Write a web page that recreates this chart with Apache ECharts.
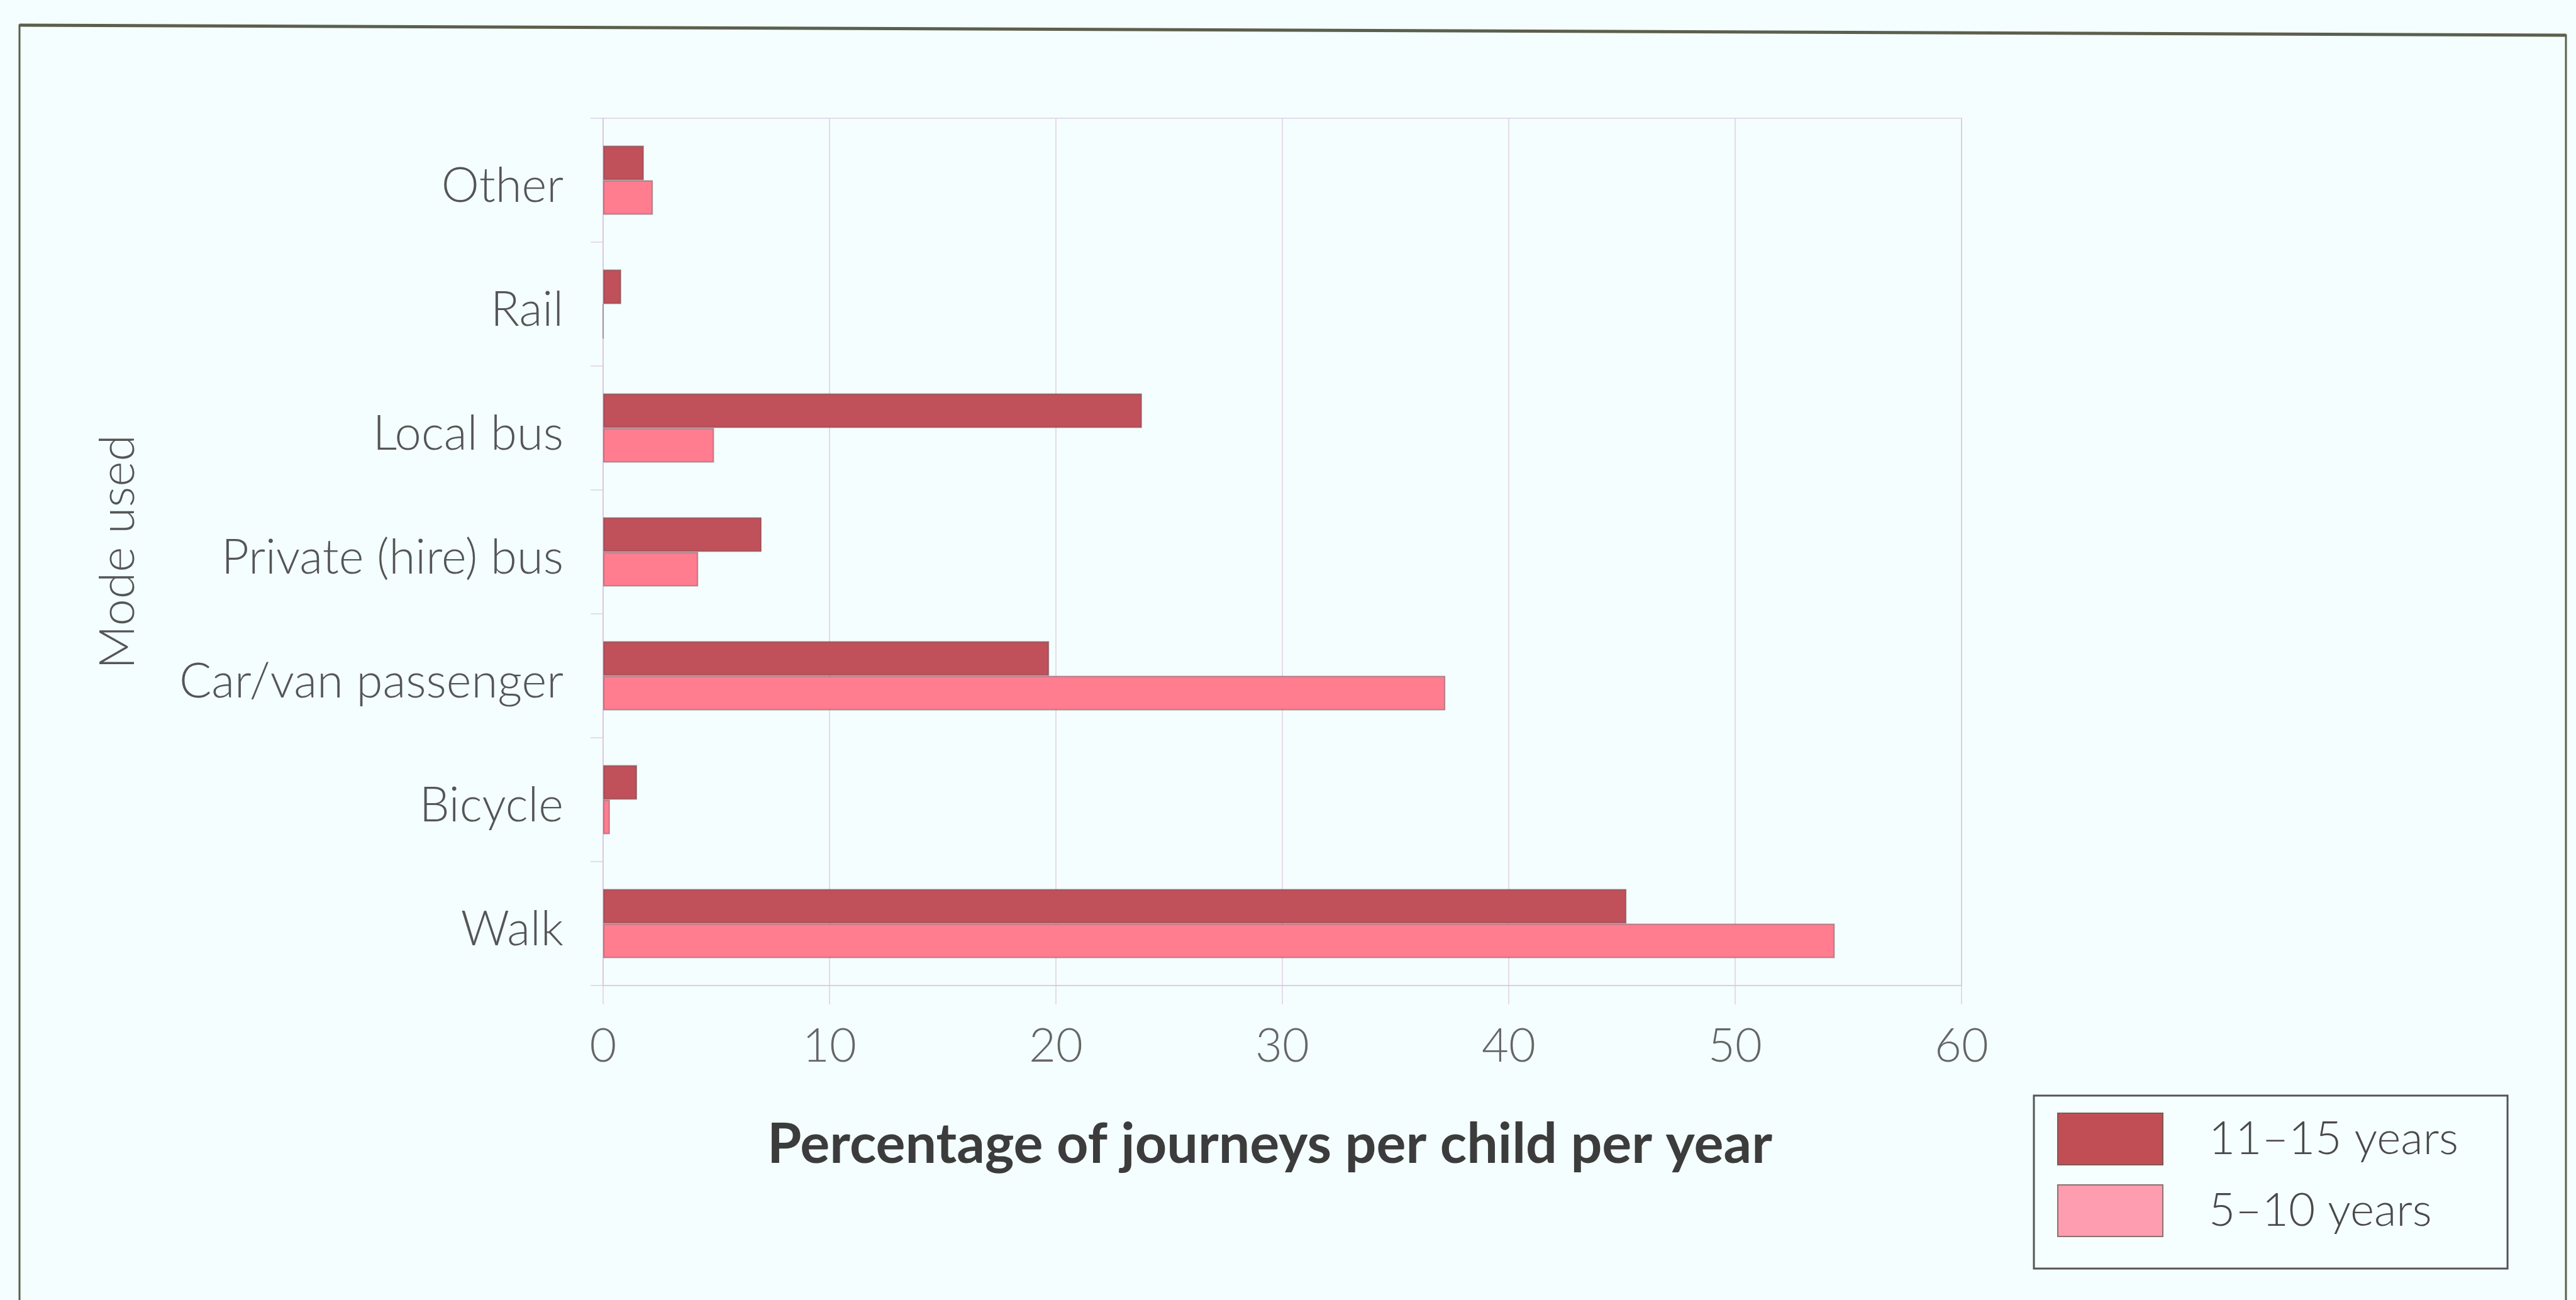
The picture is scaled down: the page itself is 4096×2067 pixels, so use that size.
<!DOCTYPE html>
<html>
<head>
<meta charset="utf-8">
<title>Mode used</title>
<script src="https://cdn.jsdelivr.net/npm/echarts@6/dist/echarts.min.js"></script>
<style>
  html, body { margin: 0; padding: 0; background: #f4fefe; }
  #chart { width: 4096px; height: 2067px; }
</style>
</head>
<body>
<div id="chart"></div>
<script>
var modes = ['Other', 'Rail', 'Local bus', 'Private (hire) bus', 'Car/van passenger', 'Bicycle', 'Walk'];
var older = [1.8, 0.8, 23.8, 7.0, 19.7, 1.5, 45.2];   // 11–15 years
var younger = [2.2, 0, 4.9, 4.2, 37.2, 0.3, 54.4];    // 5–10 years
var seriesNames = ['11–15 years', '5–10 years'];
var xTicks = [0, 10, 20, 30, 40, 50, 60];

var chart = echarts.init(document.getElementById('chart'));
var font = 'Lato, "Open Sans", sans-serif';
var faint = 'rgba(220,195,220,0.6)';

chart.setOption({
    backgroundColor: '#f4fefe',
    animation: false,
    textStyle: { fontFamily: font },
    grid: {
        left: 959,
        right: 977,
        top: 188,
        bottom: 500,
        outerBoundsMode: 'none',
        show: true,
        borderColor: faint,
        borderWidth: 2
    },
    legend: {
        orient: 'vertical',
        left: 3234,
        top: 1742,
        padding: [27, 78, 50, 37],
        itemWidth: 167,
        itemHeight: 82,
        itemGap: 30,
        borderColor: '#555555',
        borderWidth: 3,
        backgroundColor: '#f6ffff',
        icon: 'rect',
        textStyle: { fontSize: 73, color: '#4a4a4a', fontWeight: 300, padding: [0, 0, 0, 68] },
        data: [
            { name: seriesNames[0], itemStyle: { color: '#c24e55', borderColor: '#7a5a50', borderWidth: 2 } },
            { name: seriesNames[1], itemStyle: { color: '#ff9db0', borderColor: '#8a7070', borderWidth: 2 } }
        ]
    },
    xAxis: {
        type: 'value',
        min: xTicks[0],
        max: xTicks[xTicks.length - 1],
        interval: 10,
        name: 'Percentage of journeys per child per year',
        nameLocation: 'middle',
        nameGap: 210,
        nameTextStyle: { fontSize: 88, fontWeight: 'bold', color: '#3c3c3c', padding: [0, 40, 0, 0] },
        axisLine: { show: true, lineStyle: { color: faint, width: 2 } },
        axisTick: { show: true, length: 30, lineStyle: { color: faint, width: 2 } },
        axisLabel: { fontSize: 74, color: '#666666', fontWeight: 300, margin: 60 },
        splitLine: { show: true, lineStyle: { color: faint, width: 2 } }
    },
    yAxis: {
        type: 'category',
        inverse: true,
        data: modes,
        name: 'Mode used',
        nameLocation: 'middle',
        nameGap: 732,
        nameTextStyle: { fontSize: 77, color: '#555555', fontWeight: 300 },
        axisLine: { show: true, lineStyle: { color: faint, width: 2 } },
        axisTick: { show: true, length: 20, lineStyle: { color: faint, width: 2 } },
        axisLabel: {
            margin: 63,
            formatter: function (v) { return '{m|' + v + '}'; },
            rich: {
                m: { fontSize: 76, color: '#555555', fontWeight: 300, fontFamily: font, padding: [20, 0, 0, 0] }
            }
        }
    },
    series: [
        {
            name: seriesNames[0],
            type: 'bar',
            data: older,
            barWidth: 55,
            barGap: '0%',
            itemStyle: { color: '#c0505a', borderColor: 'rgba(110,70,70,0.55)', borderWidth: 2 }
        },
        {
            name: seriesNames[1],
            type: 'bar',
            data: younger,
            barWidth: 55,
            barGap: '0%',
            itemStyle: { color: '#ff7d8f', borderColor: 'rgba(120,90,100,0.55)', borderWidth: 2 }
        }
    ],
    graphic: [
        {
            type: 'polyline',
            silent: true,
            shape: { points: [[31, 2080], [31, 40], [4080, 56], [4080, 2080]] },
            style: { fill: null, stroke: '#5b5f4c', lineWidth: 3 }
        },
        {
            type: 'line',
            silent: true,
            shape: { x1: 31, y1: 40, x2: 4080, y2: 56 },
            style: { stroke: '#5b5f4c', lineWidth: 5 }
        }
    ]
});
</script>
</body>
</html>
